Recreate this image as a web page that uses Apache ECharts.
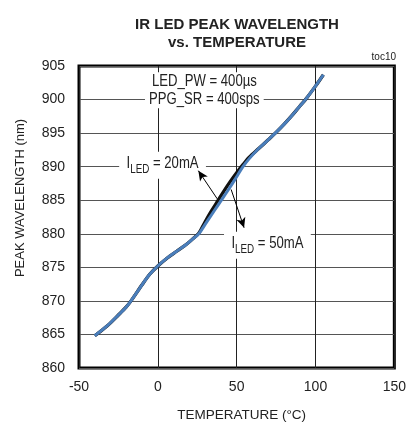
<!DOCTYPE html>
<html><head><meta charset="utf-8">
<script src="https://cdn.jsdelivr.net/npm/echarts@6/dist/echarts.min.js"></script>
<style>html,body{margin:0;padding:0;background:#fff}#c{width:409px;height:429px}</style>
</head><body><div id="c"></div>
<script>
const FONT = "'Liberation Sans', Arial, sans-serif";
const titleLines = ['IR LED PEAK WAVELENGTH', 'vs. TEMPERATURE'];
const xName = 'TEMPERATURE (°C)';
const yName = 'PEAK WAVELENGTH (nm)';
const xTicks = [-50, 0, 50, 100, 150];
const yTicks = [860, 865, 870, 875, 880, 885, 890, 895, 900, 905];
// I_LED = 20mA (black)
const temp20 = [-40, -32, -25, -20, -17, -10, -5, 0, 6, 12, 18, 22, 26, 30, 34, 38, 42, 46, 50, 54, 58, 64, 70, 75, 80, 85, 90, 94, 100, 105];
const wl20   = [864.8, 866.3, 867.9, 869.1, 870.0, 872.4, 874.0, 875.2, 876.4, 877.4, 878.4, 879.2, 880.1, 881.8, 883.4, 884.9, 886.4, 887.8, 889.1, 890.3, 891.4, 892.7, 894.0, 895.1, 896.3, 897.6, 899.0, 900.1, 902.0, 903.7];
// I_LED = 50mA (blue)
const temp50 = [-40, -32, -25, -20, -17, -10, -5, 0, 6, 12, 18, 22, 26, 30, 34, 38, 42, 46, 50, 54, 58, 64, 70, 75, 80, 85, 90, 94, 100, 105];
const wl50   = [864.8, 866.3, 867.9, 869.1, 870.0, 872.4, 874.0, 875.2, 876.4, 877.4, 878.4, 879.2, 880.0, 881.4, 882.8, 884.2, 885.6, 887.0, 888.5, 890.0, 891.2, 892.7, 894.0, 895.1, 896.3, 897.6, 899.0, 900.1, 902.0, 903.7];
const condLines = ['LED_PW = 400µs', 'PPG_SR = 400sps'];
const condPos = [29.5, 901.4];
const label20 = { sub: 'LED', text: ' = 20mA', pos: [3, 890.2] };
const label50 = { sub: 'LED', text: ' = 50mA', pos: [69.5, 878.3] };
const arrow20 = [[37.7, 885.2], [25.7, 889.4]];
const arrow50 = [[46.5, 886.6], [54.7, 880.9]];
const tocText = 'toc10';

const chart = echarts.init(document.getElementById('c'), null, { renderer: 'canvas' });
const zip = (a, b) => a.map((v, i) => [v, b[i]]);
chart.setOption({
  animation: false,
  backgroundColor: '#fff',
  textStyle: { fontFamily: FONT },
  title: {
    text: titleLines.join('\n'), left: 232, top: 11, textAlign: 'center',
    textStyle: { fontFamily: FONT, fontSize: 15, fontWeight: 'bold', color: '#222', lineHeight: 18 }
  },
  grid: { left: 79, right: 13, top: 66, bottom: 61, show: true, borderColor: '#000', borderWidth: 3, backgroundColor: 'transparent', containLabel: false },
  xAxis: {
    type: 'value', min: xTicks[0], max: xTicks[xTicks.length - 1], interval: 50,
    name: xName, nameLocation: 'middle', nameGap: 40,
    nameTextStyle: { fontFamily: FONT, fontSize: 13.5, color: '#222', padding: [0, 0, 0, 10] },
    axisLine: { show: false }, axisTick: { show: false },
    axisLabel: { fontFamily: FONT, fontSize: 14, color: '#222', margin: 12 },
    splitLine: { show: true, lineStyle: { color: '#222', width: 1 } }
  },
  yAxis: {
    type: 'value', min: yTicks[0], max: yTicks[yTicks.length - 1], interval: 5,
    name: yName, nameLocation: 'middle', nameGap: 52,
    nameTextStyle: { fontFamily: FONT, fontSize: 13, color: '#222', padding: [0, 0, 0, 38] },
    axisLine: { show: false }, axisTick: { show: false },
    axisLabel: { fontFamily: FONT, fontSize: 14, color: '#222', margin: 14 },
    splitLine: { show: true, lineStyle: { color: '#555', width: 1 } }
  },
  series: [
    { name: '20mA', type: 'line', data: zip(temp20, wl20), smooth: 0.3, showSymbol: false, lineStyle: { color: '#111', width: 3.3 }, z: 3,
      markLine: { silent: true, symbol: ['none', 'arrow'], symbolSize: [7, 10], label: { show: false },
        lineStyle: { color: '#000', width: 1, type: 'solid' },
        data: [ [ { coord: arrow20[0] }, { coord: arrow20[1] } ], [ { coord: arrow50[0] }, { coord: arrow50[1] } ] ] } },
    { name: '50mA', type: 'line', data: zip(temp50, wl50), smooth: 0.3, showSymbol: false, lineStyle: { color: '#4A7EBB', width: 3 }, z: 4 }
  ]
});

function place() {
  const p = (c) => chart.convertToPixel({ gridIndex: 0 }, c);
  const cp = p(condPos), a = p(label20.pos), b = p(label50.pos);
  const rich = {
    n: { fontFamily: FONT, fontSize: 16, fill: '#222', verticalAlign: 'top', lineHeight: 19 },
    s: { fontFamily: FONT, fontSize: 12, fill: '#222', verticalAlign: 'bottom', lineHeight: 19, padding: [0, 0, -1, 0] }
  };
  const mk = (lab, pt) => ({
    type: 'text', x: pt[0], y: pt[1], z: 1, scaleX: 0.82,
    style: { text: '{n|I}{s|' + lab.sub + '}{n|' + lab.text + '}', rich: rich, align: 'center', verticalAlign: 'middle',
      backgroundColor: '#fff', padding: [4, 9, 4, 9] }
  });
  chart.setOption({
    graphic: [
      { type: 'text', x: cp[0], y: cp[1], z: 1, scaleX: 0.82,
        style: { text: condLines.join('\n'), fontFamily: FONT, fontSize: 16, lineHeight: 18, fill: '#222', align: 'center', verticalAlign: 'middle',
          backgroundColor: '#fff', padding: [0, 5, 0, 5] } },
      mk(label20, a), mk(label50, b),
      { type: 'text', right: 13, top: 52, style: { text: tocText, fontFamily: FONT, fontSize: 10, fill: '#222' } }
    ]
  });
}
place();
</script></body></html>
